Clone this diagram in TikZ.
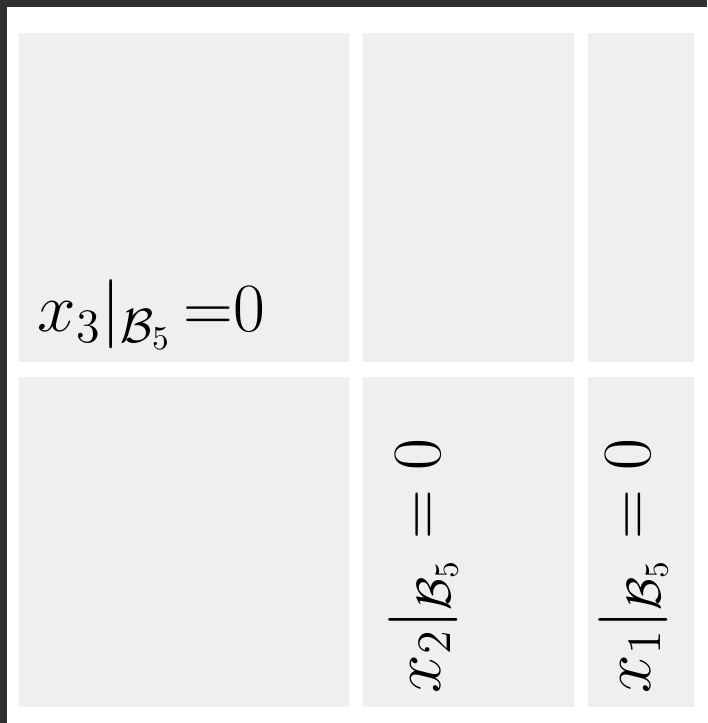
\documentclass[tikz,border=0pt]{standalone}
\usepackage{amsmath}
\usepackage{amsfonts}
\usepackage{amssymb}
\usepackage{tikz}
\definecolor{framedark}{HTML}{303030}
\definecolor{cellgray}{HTML}{EFEFEF}

\begin{document}
\begin{tikzpicture}[x=0.3pt,y=-0.3pt,
		cell/.style={fill=cellgray},
		lab/.style={inner sep=0pt,font=\fontsize{19.5}{23}\selectfont}]
			\fill[framedark] (0,0) rectangle (707,723);
			\fill[white] (7,7) rectangle (707,723);
			\useasboundingbox (0,0) rectangle (707,723);
			\fill[cell] (19,33) rectangle (349,362);
			\fill[cell] (363,33) rectangle (574,362);
			\fill[cell] (588,33) rectangle (694,362);
			\fill[cell] (19,377) rectangle (349,707);
			\fill[cell] (363,377) rectangle (574,707);
			\fill[cell] (588,377) rectangle (694,707);
			\node[lab,anchor=base west] (xthree) at (37,332) {$x_3|_{\mathcal{B}_5}\,{=}0$};
			\node[lab,anchor=base west,rotate=90] (xtwo) at (440,694) {$x_2|_{\mathcal{B}_5} = 0$};
			\node[lab,anchor=base west,rotate=90] (xone) at (650,694) {$x_1|_{\mathcal{B}_5} = 0$};
		\end{tikzpicture}
\end{document}
